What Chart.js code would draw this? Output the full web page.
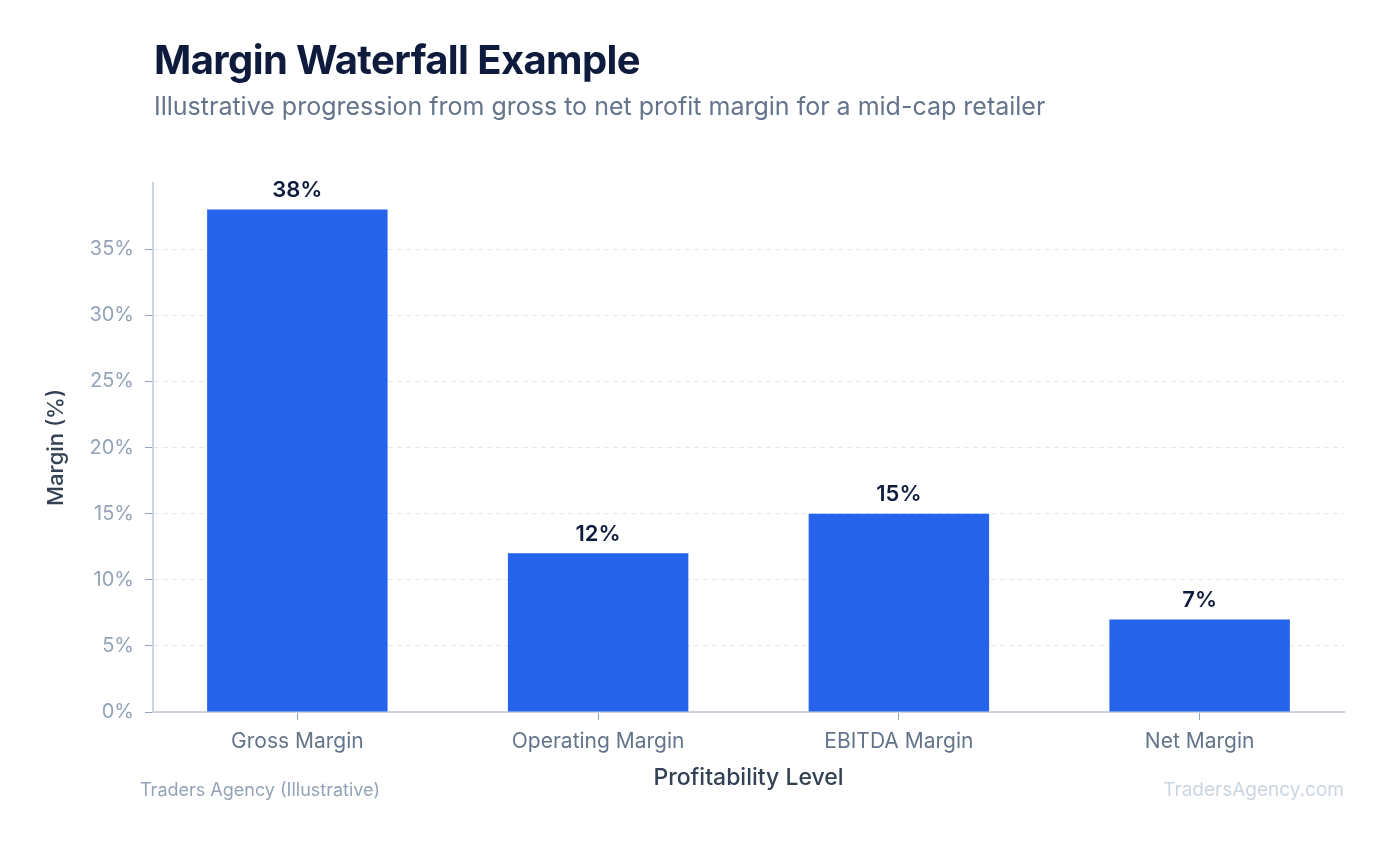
<!DOCTYPE html>
<html>
<head>
<meta charset="utf-8">
<script src="https://cdn.jsdelivr.net/npm/chart.js@4.4.1/dist/chart.umd.min.js"></script>
<style>
  html, body { margin: 0; padding: 0; background: #ffffff; }
  body { width: 1389px; height: 845px; position: relative; overflow: hidden; font-family: Inter, "Noto Sans", sans-serif; }
  #title { position: absolute; left: 154px; top: 36px; font-size: 40px; line-height: 48px; font-weight: 700; color: #0f1b3d; letter-spacing: -0.6px; white-space: nowrap; }
  #subtitle { position: absolute; left: 154px; top: 91px; font-size: 25px; line-height: 30px; font-weight: 400; color: #64748b; white-space: nowrap; }
  #srcL { position: absolute; left: 140px; top: 779px; font-size: 18px; line-height: 22px; color: #94a3b8; white-space: nowrap; }
  #srcR { position: absolute; right: 45px; top: 778px; font-size: 19px; line-height: 23px; color: #cbd5e1; white-space: nowrap; }
  #wrap { position: absolute; left: 0; top: 0; width: 1389px; height: 845px; }
</style>
</head>
<body>
<div id="wrap"><canvas id="c"></canvas></div>
<div id="title">Margin Waterfall Example</div>
<div id="subtitle">Illustrative progression from gross to net profit margin for a mid-cap retailer</div>
<div id="srcL">Traders Agency (Illustrative)</div>
<div id="srcR">TradersAgency.com</div>
<script>
const categories = ["Gross Margin", "Operating Margin", "EBITDA Margin", "Net Margin"];
const marginValues = [38, 12, 15, 7];
const yTickValues = [0, 5, 10, 15, 20, 25, 30, 35];

const valueLabels = {
  id: 'valueLabels',
  afterDatasetsDraw(chart) {
    const ctx = chart.ctx;
    const meta = chart.getDatasetMeta(0);
    ctx.save();
    ctx.font = '600 22px Inter, "Noto Sans", sans-serif';
    ctx.fillStyle = '#0f1b3d';
    ctx.textAlign = 'center';
    ctx.textBaseline = 'bottom';
    meta.data.forEach((bar, i) => {
      ctx.fillText(marginValues[i] + '%', bar.x, bar.y - 8);
    });
    ctx.restore();
  }
};

new Chart(document.getElementById('c'), {
  type: 'bar',
  data: {
    labels: categories,
    datasets: [{
      data: marginValues,
      backgroundColor: '#2563eb',
      borderWidth: 0,
      barPercentage: 0.6,
      categoryPercentage: 1.0
    }]
  },
  options: {
    responsive: true,
    maintainAspectRatio: false,
    animation: false,
    layout: { padding: { top: 183, right: 45, bottom: 49, left: 39 } },
    plugins: { legend: { display: false }, tooltip: { enabled: false } },
    scales: {
      x: {
        afterFit(scale) { scale.height = 84; },
        afterBuildTicks(scale) { scale._startValue = -0.48; scale._valueRange = categories.length - 0.04; },
        border: { color: '#cbd5e1', width: 2 },
        grid: { offset: false, drawOnChartArea: false, tickLength: 8, tickColor: '#94a3b8', color: '#94a3b8' },
        ticks: { color: '#64748b', font: { family: 'Inter', size: 21 }, padding: 9 },
        title: { display: true, text: 'Profitability Level', color: '#334155', font: { family: 'Inter', size: 23, weight: '500' }, padding: { top: 4, bottom: 4 } }
      },
      y: {
        min: 0,
        max: 40,
        afterFit(scale) { scale.width = 114; },
        afterBuildTicks(scale) { scale.ticks = yTickValues.map(v => ({ value: v })); },
        border: { color: '#cbd5e1', width: 2, dash: [5, 4] },
        grid: { color: '#e2e8f0', tickBorderDash: [], tickLength: 8, tickColor: '#94a3b8' },
        ticks: { color: '#94a3b8', font: { family: 'Inter', size: 20 }, padding: 11, callback: v => v + '%' },
        title: { display: true, text: 'Margin (%)', color: '#334155', font: { family: 'Inter', size: 22, weight: '500' }, padding: 4 }
      }
    }
  },
  plugins: [valueLabels]
});
</script>
</body>
</html>
